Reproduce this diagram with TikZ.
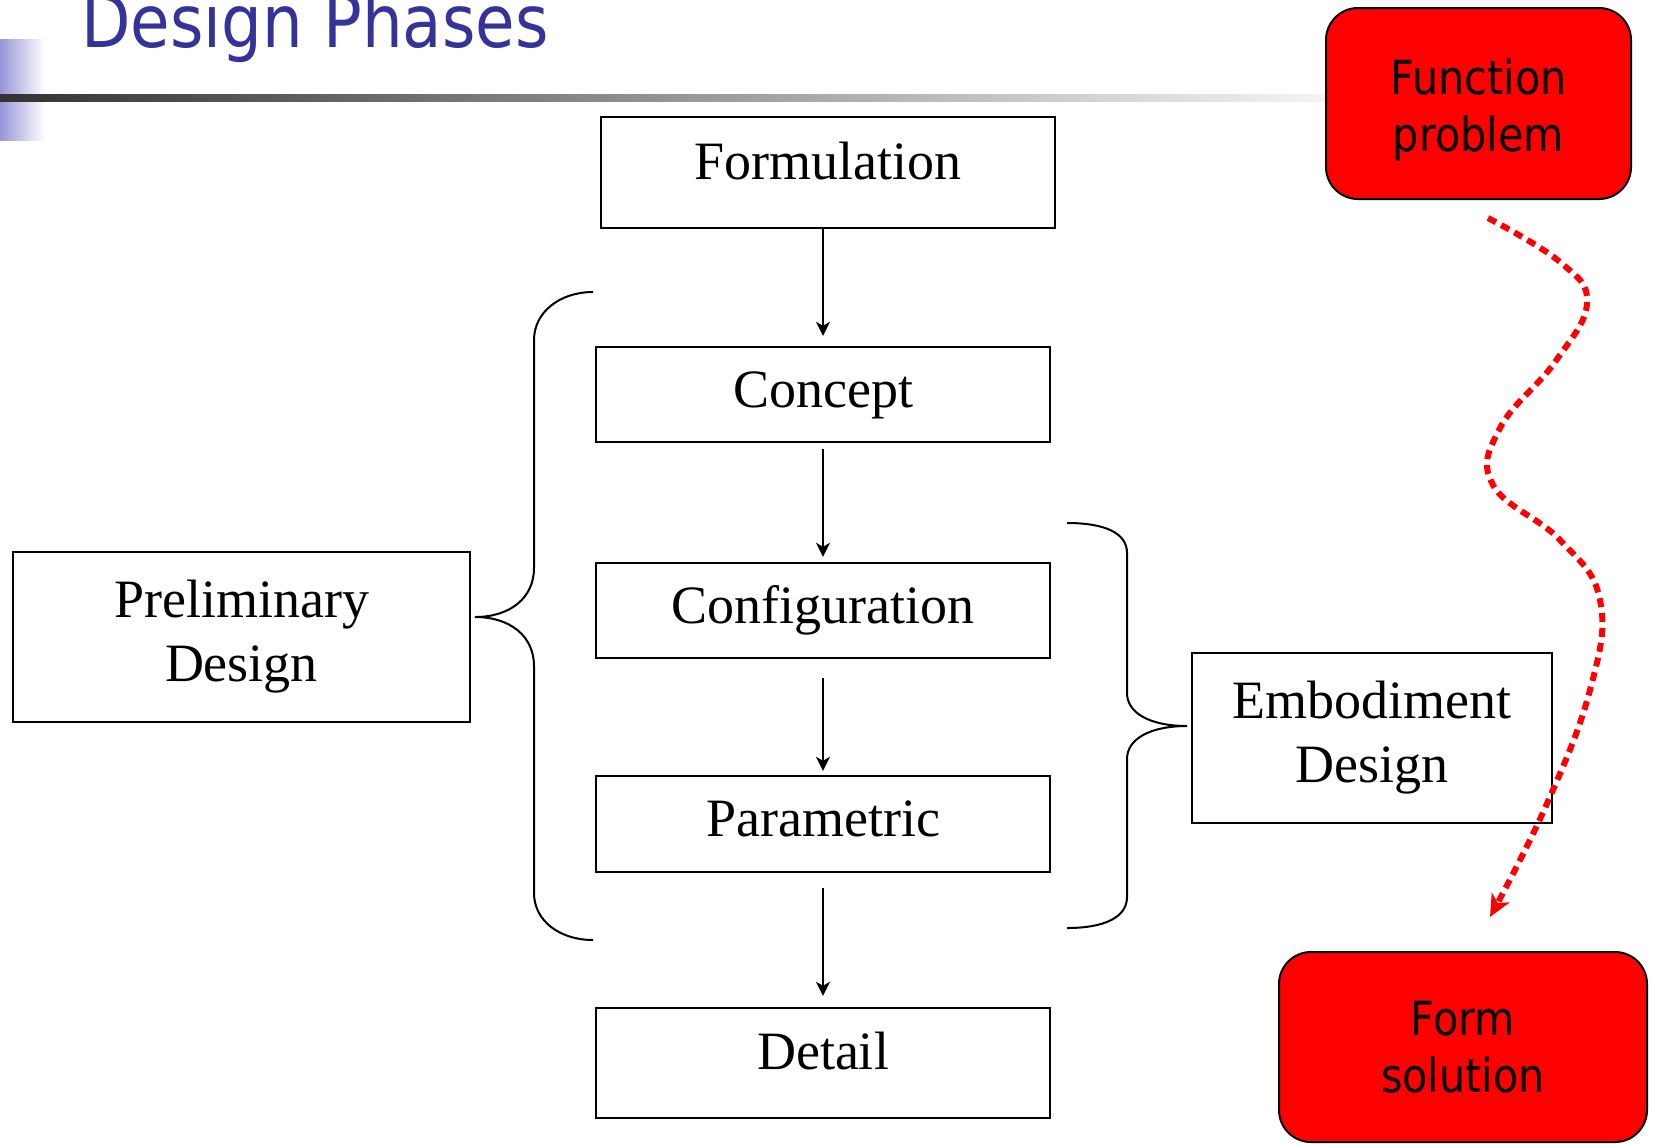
\documentclass[tikz,border=0pt]{standalone}
\usepackage{fontspec}
\setmainfont{Liberation Serif}
\newfontfamily\slidesans[FakeStretch=0.88]{DejaVu Sans}
\usetikzlibrary{arrows.meta}

\definecolor{titleblue}{RGB}{51,51,153}
\definecolor{lavender}{RGB}{150,150,215}

\begin{document}
\begin{tikzpicture}[x=1pt,y=-1pt,
  stage/.style={draw=black, line width=2.4pt, inner sep=0pt, minimum width=454pt,
    font=\fontsize{54}{64}\selectfont, text height=37pt, text depth=12pt},
  group/.style={draw=black, line width=2.4pt, inner sep=0pt, align=center,
    font=\fontsize{54}{64}\selectfont},
  redbox/.style={draw=black, line width=2pt, fill=red, rounded corners=32pt, inner sep=0pt,
    align=center, font=\slidesans\fontsize{47}{57}\selectfont},
  redtext/.style={inner sep=0pt, align=center, font=\slidesans\fontsize{47}{57}\selectfont},
  flow/.style={line width=2pt, -{Stealth[length=14pt,width=14pt,inset=4pt]}},
  brace/.style={line width=2pt},
  wavy/.style={red, line width=6pt, dash pattern=on 9pt off 6pt,
    -{Stealth[length=22pt,width=20pt,inset=6pt]}}
]
% page
\fill[white] (0,0) rectangle (1653,1144);
\useasboundingbox (0,0) rectangle (1653,1144);

% slide header decoration
\shade[left color=lavender, right color=white] (0,39) rectangle (45,140);
\shade[left color=black!80, right color=black!4] (0,94) rectangle (1330,101);
\node[anchor=base west, inner sep=0pt, text=titleblue,
      font=\slidesans\fontsize{73}{80}\selectfont] (title) at (81,47) {Design Phases};

% design stages
\node[stage, minimum height=111pt, text depth=24pt] (form) at (828,172.5) {Formulation};
\node[stage, minimum height=95pt] (concept) at (823,394.5) {Concept};
\node[stage, minimum height=95pt] (config) at (823,610.5) {Configuration};
\node[stage, minimum height=96pt] (param) at (823,824) {Parametric};
\node[stage, minimum height=110pt, text depth=24pt] (detail) at (823,1063) {Detail};

% grouping labels
\node[group, minimum width=457pt, minimum height=170pt] (prelim) at (241.5,637) {Preliminary\\Design};
\node[group, minimum width=360pt, minimum height=170pt] (embod) at (1372,738) {Embodiment\\Design};

% flow between stages
\draw[flow, shorten >=10pt] (concept.north |- form.south) -- (concept.north);
\draw[flow, shorten <=6pt, shorten >=5pt] (concept) -- (config);
\draw[flow, shorten <=19pt, shorten >=4pt] (config) -- (param);
\draw[flow, shorten <=15pt, shorten >=11pt] (param) -- (detail);

% braces
\draw[brace] (593,292) .. controls (560,292) and (534,312) .. (534,340) -- (534,568)
  .. controls (534,598) and (510,617) .. (475,617)
  .. controls (510,617) and (534,636) .. (534,666) -- (534,893)
  .. controls (534,921) and (560,940) .. (593,940);
\draw[brace] (1067,523) .. controls (1105,523) and (1127,533) .. (1127,553) -- (1127,693)
  .. controls (1127,713) and (1150,726) .. (1187,726)
  .. controls (1150,726) and (1127,739) .. (1127,759) -- (1127,897)
  .. controls (1127,917) and (1105,928) .. (1067,928);

% function to form
\node[redbox, minimum width=305pt, minimum height=191pt] (fun) at (1478.5,103.5) {};
\node[redtext, yshift=-7pt] (funtxt) at (fun.center) {Function\\problem};
\node[redbox, minimum width=368pt, minimum height=190pt] (formsol) at (1463,1047) {Form\\solution};

\coordinate (wstart) at ([shift={(9.5,18)}]fun.south);
\coordinate (wend) at ([shift={(27,-34)}]formsol.north);
\draw[wavy] plot[smooth, tension=0.7] coordinates {(wstart) (1560,262) (1587,303) (1555,362)
  (1500,428) (1493,485) (1560,540) (1600,600) (1590,690) (1545,808) (wend)};
\end{tikzpicture}
\end{document}
